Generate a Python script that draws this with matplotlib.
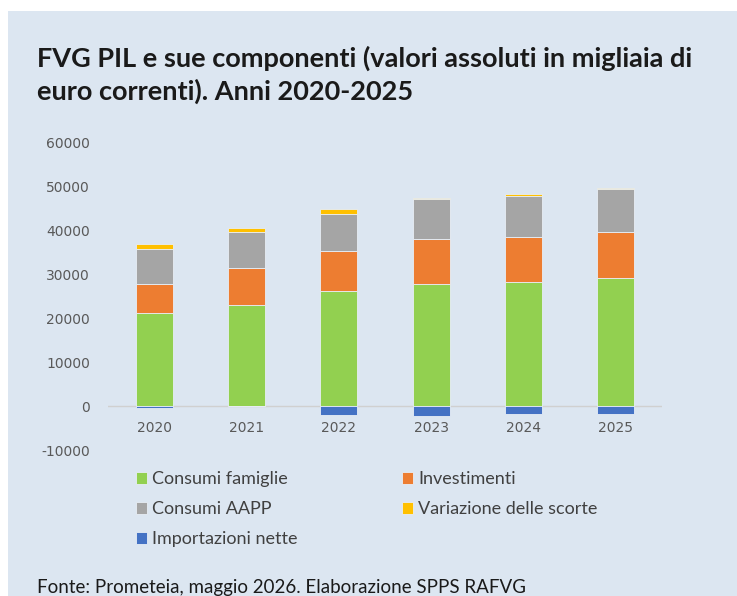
import matplotlib.pyplot as plt
from matplotlib.patches import Rectangle

anni = ['2020', '2021', '2022', '2023', '2024', '2025']
consumi_famiglie = [21300, 23060, 26260, 27850, 28380, 29220]
investimenti = [6620, 8380, 9200, 10350, 10280, 10580]
consumi_aapp = [7860, 8210, 8300, 9060, 9360, 9740]
variazione_scorte = [1280, 990, 1140, 230, 380, 230]
importazioni_nette = [-500, -60, -2100, -2350, -1750, -1900]

colori = ['#92d050', '#ed7d31', '#a5a5a5', '#ffc000', '#4472c4']
etichette = ['Consumi famiglie', 'Investimenti', 'Consumi AAPP',
             'Variazione delle scorte', 'Importazioni nette']

plt.rcParams['axes.unicode_minus'] = False

W, H = 737, 596
fig = plt.figure(figsize=(W / 100, H / 100), dpi=100, facecolor='white')

def fx(px):
    return px / W

def fy(py):
    return 1 - py / H

# pannello azzurro
fig.patches.append(Rectangle((fx(8), 0), 1 - fx(8), fy(11), transform=fig.transFigure,
                             facecolor='#dce6f1', edgecolor='none', zorder=-10))

ax = fig.add_axes([fx(108), fy(450), fx(662) - fx(108), fy(143) - fy(450)])
ax.set_facecolor('none')
ax.set_zorder(2)

x = range(len(anni))
larg = 0.4
bordo = dict(edgecolor='#e8eef6', linewidth=0.6)
b1 = ax.bar(x, consumi_famiglie, larg, color=colori[0], **bordo)
base = list(consumi_famiglie)
b2 = ax.bar(x, investimenti, larg, bottom=base, color=colori[1], **bordo)
base = [a + b for a, b in zip(base, investimenti)]
b3 = ax.bar(x, consumi_aapp, larg, bottom=base, color=colori[2], **bordo)
base = [a + b for a, b in zip(base, consumi_aapp)]
b4 = ax.bar(x, variazione_scorte, larg, bottom=base, color=colori[3], **bordo)
b5 = ax.bar(x, importazioni_nette, larg, color=colori[4], **bordo)

ax.set_xlim(-0.5, 5.5)
ax.set_ylim(-10000, 60000)
ax.set_yticks(range(-10000, 60001, 10000))
ax.axhline(0, color='#d0d0d0', linewidth=1, zorder=0)
for s in ax.spines.values():
    s.set_visible(False)
ax.tick_params(length=0, labelsize=10, labelcolor='#595959', pad=13)
ax.set_xticks(list(x))
ax.set_xticklabels([])
for i, a in enumerate(anni):
    ax.annotate(a, (i, 0), xytext=(0, -16), textcoords='offset points',
                ha='center', va='center', fontsize=10, color='#595959')

fig.text(fx(37), fy(75), 'FVG PIL e sue componenti (valori assoluti in migliaia di\neuro correnti). Anni 2020-2025',
         fontsize=19.5, fontweight='bold', family='Lato', color='#1a1a1a',
         va='center', ha='left', linespacing=1.35)

handles = [b1, b3, b5, b2, b4]
labels = [etichette[0], etichette[2], etichette[4], etichette[1], etichette[3]]
fig.legend(handles, labels, ncol=2, loc='upper left',
           bbox_to_anchor=(fx(120), fy(455)), frameon=False,
           prop={'family': 'Lato', 'size': 13}, labelcolor='#404040',
           handlelength=0.6, handleheight=0.6, handletextpad=0.3,
           columnspacing=5.75, labelspacing=0.78)

fig.text(fx(37), fy(588), 'Fonte: Prometeia, maggio 2026. Elaborazione SPPS RAFVG',
         fontsize=13.5, family='Lato', color='#1a1a1a', va='center', ha='left')

fig.savefig('out.png', dpi=100, facecolor='white')
